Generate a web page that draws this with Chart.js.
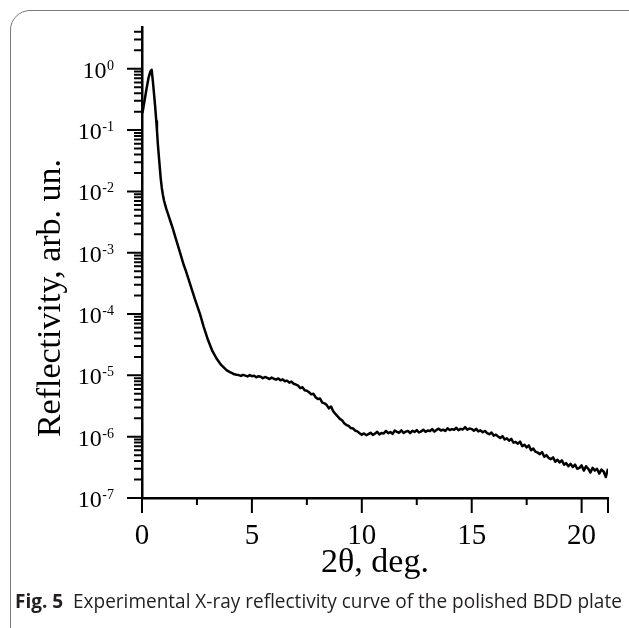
<!DOCTYPE html>
<html>
<head>
<meta charset="utf-8">
<script src="https://cdn.jsdelivr.net/npm/chart.js@4/dist/chart.umd.min.js"></script>
<style>
  html, body { margin: 0; padding: 0; background: #fff; }
  #wrap { position: relative; width: 629px; height: 628px; overflow: hidden; }
  #frame {
    position: absolute; left: 10px; top: 10px; width: 640px; height: 640px;
    border: 1.5px solid #7a7a7a; border-radius: 20px; box-sizing: border-box;
  }
  #chart { position: absolute; left: 0; top: 0; }
  #cap {
    position: absolute; left: 15px; top: 588px; white-space: nowrap;
    font-family: "Open Sans", sans-serif; font-size: 20px; line-height: 26px;
    color: #231f20; transform-origin: 0 0;
  }
  #cap b { font-weight: 700; }
</style>
</head>
<body>
<div id="wrap">
  <div id="frame"></div>
  <canvas id="chart" width="629" height="628"></canvas>
  <div id="cap"><b>Fig. 5</b>&nbsp; Experimental X-ray reflectivity curve of the polished BDD plate</div>
</div>
<script>
// 2θ (deg) and reflectivity (arb. un.)
const angles = [
  0.02, 0.1, 0.2, 0.3, 0.38, 0.44, 0.5, 0.55, 0.6, 0.65,
  0.68, 0.72, 0.76, 0.8, 0.85, 0.9, 0.95, 1.0, 1.1, 1.2,
  1.3, 1.4, 1.5, 1.6, 1.73, 1.9, 2.0, 2.2, 2.4, 2.64,
  2.8, 3.0, 3.2, 3.4, 3.6, 3.8,
  3.9, 4.0, 4.1, 4.2, 4.3, 4.4, 4.5, 4.6, 4.7, 4.8,
  4.9, 5.0, 5.1, 5.2, 5.3, 5.4, 5.5, 5.6, 5.7, 5.8,
  5.9, 6.0, 6.1, 6.2, 6.3, 6.4, 6.5, 6.6, 6.7, 6.8,
  6.9, 7.0, 7.1, 7.2, 7.3, 7.4, 7.5, 7.6, 7.7, 7.8,
  7.9, 8.0, 8.1, 8.2, 8.3, 8.4, 8.5, 8.6, 8.7, 8.8,
  8.9, 9.0, 9.1, 9.2, 9.3, 9.4, 9.5, 9.6, 9.7, 9.8,
  9.9, 10.0, 10.1, 10.2, 10.3, 10.4, 10.5, 10.6, 10.7, 10.8,
  10.9, 11.0, 11.1, 11.2, 11.3, 11.4, 11.5, 11.6, 11.7, 11.8,
  11.9, 12.0, 12.1, 12.2, 12.3, 12.4, 12.5, 12.6, 12.7, 12.8,
  12.9, 13.0, 13.1, 13.2, 13.3, 13.4, 13.5, 13.6, 13.7, 13.8,
  13.9, 14.0, 14.1, 14.2, 14.3, 14.4, 14.5, 14.6, 14.7, 14.8,
  14.9, 15.0, 15.1, 15.2, 15.3, 15.4, 15.5, 15.6, 15.7, 15.8,
  15.9, 16.0, 16.1, 16.2, 16.3, 16.4, 16.5, 16.6, 16.7, 16.8,
  16.9, 17.0, 17.1, 17.2, 17.3, 17.4, 17.5, 17.6, 17.7, 17.8,
  17.9, 18.0, 18.1, 18.2, 18.3, 18.4, 18.5, 18.6, 18.7, 18.8,
  18.9, 19.0, 19.1, 19.2, 19.3, 19.4, 19.5, 19.6, 19.7, 19.8,
  19.9, 20.0, 20.1, 20.2, 20.3, 20.4, 20.5, 20.6, 20.7, 20.8,
  20.9, 21.0, 21.1, 21.2
];
const reflectivity = [
  0.19, 0.28, 0.46, 0.72, 0.9, 0.96, 0.6, 0.38, 0.24, 0.14,
  0.1, 0.06, 0.04, 0.027, 0.0165, 0.0115, 0.0088, 0.0071, 0.0053, 0.0041,
  0.0032, 0.0025, 0.00188, 0.00143, 0.001, 6.3e-4, 5.0e-4, 3.0e-4, 1.78e-4, 1.0e-4,
  6.3e-5, 3.8e-5, 2.5e-5, 1.86e-5, 1.48e-5, 1.26e-5,
  1.18e-5, 1.13e-5, 1.09e-5, 1.04e-5, 1.02e-5, 1.01e-5,
  9.8e-6, 1.02e-5, 9.9e-6, 9.6e-6, 1.01e-5, 9.7e-6, 9.9e-6, 9.3e-6, 9.7e-6, 9.5e-6,
  9.0e-6, 9.4e-6, 9.1e-6, 8.7e-6, 9.2e-6, 8.8e-6, 8.5e-6, 8.9e-6, 8.3e-6, 8.6e-6,
  8.0e-6, 8.2e-6, 7.6e-6, 7.9e-6, 7.3e-6, 7.1e-6,
  6.8e-6, 6.2e-6, 6.4e-6, 5.7e-6, 5.6e-6, 5.3e-6, 4.9e-6, 5.0e-6, 4.4e-6, 4.1e-6,
  4.2e-6, 3.6e-6, 3.5e-6, 3.3e-6, 2.9e-6, 3.1e-6, 2.6e-6, 2.35e-6, 2.15e-6, 1.95e-6,
  1.85e-6, 1.65e-6, 1.55e-6, 1.5e-6, 1.38e-6, 1.36e-6, 1.25e-6, 1.22e-6, 1.14e-6, 1.08e-6,
  1.13e-6, 1.06e-6, 1.1e-6, 1.16e-6, 1.07e-6, 1.12e-6, 1.2e-6, 1.09e-6, 1.15e-6, 1.13e-6,
  1.24e-6, 1.14e-6, 1.19e-6, 1.11e-6, 1.26e-6, 1.2e-6, 1.16e-6, 1.27e-6, 1.15e-6, 1.21e-6,
  1.24e-6, 1.14e-6, 1.25e-6, 1.19e-6, 1.28e-6, 1.17e-6, 1.22e-6, 1.3e-6, 1.2e-6, 1.26e-6,
  1.23e-6, 1.33e-6, 1.21e-6, 1.29e-6, 1.35e-6, 1.26e-6, 1.3e-6, 1.24e-6, 1.37e-6, 1.28e-6,
  1.33e-6, 1.3e-6, 1.4e-6, 1.27e-6, 1.34e-6, 1.31e-6, 1.43e-6, 1.3e-6, 1.36e-6, 1.33e-6,
  1.25e-6, 1.34e-6, 1.22e-6, 1.27e-6, 1.18e-6, 1.24e-6, 1.14e-6, 1.1e-6, 1.17e-6, 1.04e-6,
  1.08e-6, 1.01e-6, 9.5e-7, 1.02e-6, 9.0e-7, 9.4e-7, 8.6e-7, 9.2e-7, 8.0e-7, 8.2e-7,
  7.7e-7, 8.3e-7, 7.0e-7, 7.4e-7, 6.7e-7, 7.2e-7, 6.0e-7, 6.4e-7, 5.7e-7, 5.5e-7,
  5.2e-7, 5.6e-7, 4.7e-7, 5.0e-7, 4.5e-7, 4.3e-7, 4.6e-7, 3.9e-7, 4.2e-7, 3.8e-7,
  4.1e-7, 3.5e-7, 3.7e-7, 3.3e-7, 3.6e-7, 3.2e-7, 3.5e-7, 3.0e-7, 3.1e-7, 3.4e-7,
  2.8e-7, 3.3e-7, 3.0e-7, 2.6e-7, 3.1e-7, 2.8e-7, 3.0e-7, 2.5e-7, 2.9e-7, 2.7e-7,
  2.2e-7, 3.0e-7
];

// axis ticks and labels
const xTicks = [0, 2.5, 5, 7.5, 10, 12.5, 15, 17.5, 20, 21.2];
const xLabels = ['0', '', '5', '', '10', '', '15', '', '20', ''];
const yDecades = [-7, -6, -5, -4, -3, -2, -1, 0];
const yMin = 1e-7, yMax = 4.8;

const SERIF = '"Liberation Serif", "Times New Roman", serif';

function yTickValues() {
  const out = [];
  yDecades.forEach(e => {
    for (let k = 1; k <= 9; k++) {
      const v = k * Math.pow(10, e);
      if (v >= yMin && v <= yMax * 1.0001) out.push(v);
    }
  });
  return out;
}

const axisDecor = {
  id: 'axisDecor',
  afterDraw(chart) {
    const { ctx, chartArea: a, scales: { x, y } } = chart;
    ctx.save();
    ctx.strokeStyle = '#000';
    ctx.lineWidth = 2;
    ctx.beginPath();
    x.ticks.forEach(t => {
      const px = x.getPixelForValue(t.value);
      const len = (t.value % 5 === 0 || t.value === x.max) ? 15 : 7;
      ctx.moveTo(px, a.bottom);
      ctx.lineTo(px, a.bottom + len);
    });
    y.ticks.forEach(t => {
      const py = y.getPixelForValue(t.value);
      const e = Math.log10(t.value);
      const len = Math.abs(e - Math.round(e)) < 1e-6 ? 15 : 8;
      ctx.moveTo(a.left - len, py);
      ctx.lineTo(a.left, py);
    });
    ctx.stroke();

    // y tick labels 10^n with superscript
    ctx.fillStyle = '#000';
    ctx.textAlign = 'left';
    ctx.textBaseline = 'alphabetic';
    const right = 114;
    yDecades.forEach(e => {
      const py = y.getPixelForValue(Math.pow(10, e));
      const exp = e === 0 ? '0' : '-' + (-e);
      ctx.font = '14px ' + SERIF;
      const ew = ctx.measureText(exp).width;
      ctx.fillText(exp, right - ew, py + 1);
      ctx.font = '24px ' + SERIF;
      const bw = ctx.measureText('10').width;
      ctx.fillText('10', right - ew - bw - 0.5, py + 9);
    });

    // axis titles
    ctx.font = '34px ' + SERIF;
    ctx.textAlign = 'center';
    ctx.fillText('2θ, deg.', (a.left + a.right) / 2, 572);
    ctx.translate(60, 298);
    ctx.rotate(-Math.PI / 2);
    ctx.fillText('Reflectivity, arb. un.', 0, 0);
    ctx.restore();
  }
};

new Chart(document.getElementById('chart').getContext('2d'), {
  type: 'line',
  data: {
    datasets: [{
      data: angles.map((a, i) => ({ x: a, y: reflectivity[i] })),
      borderColor: '#000', borderWidth: 2.5, borderJoinStyle: 'round',
      pointRadius: 0, tension: 0, fill: false,
    }],
  },
  options: {
    responsive: false, animation: false, events: [],
    layout: { padding: { left: 0, top: 27, right: 21, bottom: 0 } },
    plugins: { legend: { display: false }, tooltip: { enabled: false } },
    scales: {
      x: {
        type: 'linear', min: 0, max: 21.2,
        afterFit: s => { s.height = 130; },
        afterBuildTicks: s => { s.ticks = xTicks.map(v => ({ value: v })); },
        grid: { display: false, drawTicks: false },
        border: { display: true, color: '#000', width: 2.5 },
        ticks: {
          autoSkip: false, maxRotation: 0, padding: 21, color: '#000',
          font: { family: SERIF, size: 29 },
          callback: (v, i) => xLabels[i],
        },
      },
      y: {
        type: 'logarithmic', min: yMin, max: yMax,
        afterFit: s => { s.width = 142; },
        afterBuildTicks: s => { s.ticks = yTickValues().map(v => ({ value: v })); },
        grid: { display: false, drawTicks: false },
        border: { display: true, color: '#000', width: 2.5 },
        ticks: { display: false },
      },
    },
  },
  plugins: [axisDecor],
});

// fit caption to the figure width
const cap = document.getElementById('cap');
cap.style.transform = 'scaleX(' + (607 / cap.scrollWidth) + ')';
</script>
</body>
</html>
